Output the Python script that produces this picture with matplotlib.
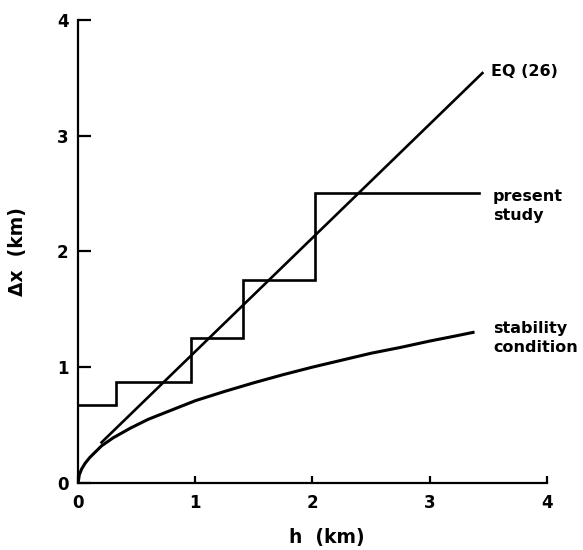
import matplotlib
matplotlib.use("Agg")
import matplotlib.pyplot as plt

# Grid spacing used in the present study (stepped function of depth h)
step_h = [0.0, 0.32, 0.32, 0.96, 0.96, 1.41, 1.41, 2.02, 2.02, 3.42]
step_dx = [0.67, 0.67, 0.87, 0.87, 1.25, 1.25, 1.75, 1.75, 2.50, 2.50]

# Equation (26): straight line
eq_h = [0.20, 3.45]
eq_dx = [0.35, 3.54]

# Stability condition curve
stab_h = [0.0, 0.01, 0.03, 0.06, 0.1, 0.15, 0.2, 0.3, 0.45, 0.6, 0.8, 1.0,
          1.25, 1.5, 1.75, 2.0, 2.25, 2.5, 2.75, 3.0, 3.2, 3.37]
stab_dx = [0.0, 0.07, 0.12, 0.17, 0.22, 0.27, 0.32, 0.39, 0.475, 0.55, 0.63,
           0.71, 0.79, 0.865, 0.935, 1.0, 1.06, 1.12, 1.17, 1.225, 1.265, 1.30]

xticks = [0, 1, 2, 3, 4]
yticks = [0, 1, 2, 3, 4]

plt.rcParams['font.family'] = ['DejaVu Sans']

fig = plt.figure(figsize=(5.83, 5.5), dpi=100)
ax = fig.add_axes([0.134, 0.122, 0.804, 0.842])

lw = 1.9
ax.plot(step_h, step_dx, color='black', lw=lw, solid_joinstyle='miter')
ax.plot(eq_h, eq_dx, color='black', lw=lw)
ax.plot(stab_h, stab_dx, color='black', lw=lw + 0.3)

ax.set_xlim(0, 4)
ax.set_ylim(0, 4)
ax.set_xticks(xticks)
ax.set_yticks(yticks)
ax.set_xticklabels([str(t) for t in xticks], fontsize=12, fontweight='bold')
ax.set_yticklabels([str(t) for t in yticks], fontsize=12, fontweight='bold')

for side in ('top', 'right'):
    ax.spines[side].set_visible(False)
for side in ('left', 'bottom'):
    ax.spines[side].set_linewidth(1.6)

ax.tick_params(axis='x', direction='in', length=5, width=1.6, pad=8)
ax.tick_params(axis='y', direction='in', length=9, width=1.6, pad=7)

ax.set_xlabel('h  (km)', fontsize=13.5, fontweight='bold')
ax.set_ylabel('Δx  (km)', fontsize=13.5, fontweight='bold')
ax.xaxis.set_label_coords(0.53, -0.097)
ax.yaxis.set_label_coords(-0.11, 0.5)

txt = dict(fontsize=11.5, fontweight='bold', ha='left', va='center',
           clip_on=False, linespacing=1.3)
ax.text(3.52, 3.55, 'EQ (26)', **txt)
ax.text(3.54, 2.39, 'present\nstudy', **txt)
ax.text(3.54, 1.25, 'stability\ncondition', **txt)

fig.savefig('out.png', dpi=100)
